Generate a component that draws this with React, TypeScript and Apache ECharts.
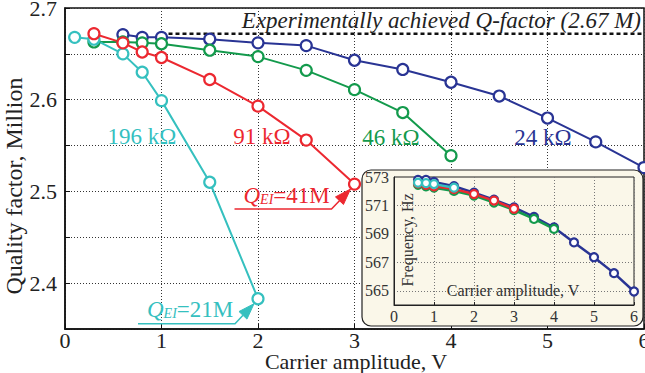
import React, { useEffect, useRef } from 'react';
import * as echarts from 'echarts';

// ---- Main plot data (Quality factor, Million vs carrier amplitude, V)
const cyanX = [0.1, 0.3, 0.6, 0.8, 1.0, 1.5, 2.0];
const cyanQ = [2.668, 2.666, 2.650, 2.630, 2.599, 2.510, 2.383];
const redX = [0.3, 0.6, 0.8, 1.0, 1.5, 2.0, 2.5, 3.0];
const redQ = [2.672, 2.662, 2.652, 2.646, 2.622, 2.593, 2.556, 2.508];
const greenX = [0.3, 0.6, 0.8, 1.0, 1.5, 2.0, 2.5, 3.0, 3.5, 4.0];
const greenQ = [2.663, 2.663, 2.662, 2.661, 2.654, 2.647, 2.632, 2.611, 2.586, 2.539];
const blueX = [0.6, 0.8, 1.0, 1.5, 2.0, 2.5, 3.0, 3.5, 4.0, 4.5, 5.0, 5.5, 6.0];
const blueQ = [2.671, 2.668, 2.668, 2.666, 2.662, 2.659, 2.643, 2.633, 2.619, 2.604, 2.580, 2.554, 2.526];
const expX = [1.0, 6.0];
const expQ = [2.672, 2.672];

// ---- Inset data (Frequency, Hz)
const cyanFX = [0.6, 0.8, 1.0, 1.5];
const cyanF = [572.6, 572.57, 572.5, 572.25];
const redFX = [0.6, 0.8, 1.0, 1.5, 2.0, 2.5, 3.0];
const redF = [572.55, 572.45, 572.35, 572.15, 571.8, 571.34, 570.77];
const greenFX = [0.6, 0.8, 1.0, 1.5, 2.0, 2.5, 3.0, 3.5, 4.0];
const greenF = [572.45, 572.35, 572.25, 572.02, 571.7, 571.2, 570.68, 570.05, 569.35];
const blueFX = [0.6, 0.8, 1.0, 1.5, 2.0, 2.5, 3.0, 3.5, 4.0, 4.5, 5.0, 5.5, 6.0];
const blueF = [572.8, 572.8, 572.65, 572.35, 571.9, 571.4, 570.87, 570.2, 569.45, 568.4, 567.36, 566.24, 564.95];
const insetGridValues = [565, 567, 569, 571];

// ---- Labels
const seriesNames = ['196 kΩ', '91 kΩ', '46 kΩ', '24 kΩ'];
const expLabel = 'Experimentally achieved Q-factor (2.67 M)';
const xTitle = 'Carrier amplitude, V';
const yTitle = 'Quality factor, Million';
const qRed = '41M';
const qCyan = '21M';

const CYAN = '#35c0bf';
const RED = '#ec2830';
const GREEN = '#139a4c';
const BLUE = '#293494';
const FONT = '"Liberation Serif", "Times New Roman", serif';

const zip = (xs: number[], ys: number[]) => xs.map((x, i) => [x, ys[i]]);

export default function App() {
  const ref = useRef<HTMLDivElement>(null);
  useEffect(() => {
    if (!ref.current) return;
    const chart = echarts.init(ref.current, undefined, { renderer: 'svg' });

    const mainSeries = (name: string, color: string, data: number[][]) => ({
      name,
      type: 'line',
      xAxisIndex: 0,
      yAxisIndex: 0,
      data,
      symbol: 'circle',
      symbolSize: 11,
      showSymbol: true,
      clip: false,
      lineStyle: { color, width: 2 },
      itemStyle: { color: '#ffffff', borderColor: color, borderWidth: 2.2 },
      z: 3,
    });
    const insetSeries = (name: string, color: string, data: number[][]) => ({
      name,
      type: 'line',
      xAxisIndex: 1,
      yAxisIndex: 1,
      data,
      symbol: 'circle',
      symbolSize: 8,
      clip: false,
      lineStyle: { color, width: 2.5 },
      itemStyle: { color: '#ffffff', borderColor: color, borderWidth: 2.2 },
      z: 12,
    });

    chart.setOption({
      animation: false,
      grid: [
        {
          left: 65, top: 8, width: 579, height: 321, outerBoundsMode: 'none', containLabel: false,
          show: true, borderColor: '#111', borderWidth: 1.5, backgroundColor: 'transparent',
        },
        {
          left: 394, top: 177, width: 240, height: 128, outerBoundsMode: 'none', containLabel: false,
          show: true, borderColor: '#222', borderWidth: 1, backgroundColor: 'transparent', z: 10,
        },
      ],
      xAxis: [
        {
          type: 'value', gridIndex: 0, min: 0, max: 6, interval: 1,
          axisLine: { show: true, lineStyle: { color: '#111', width: 1.5 } },
          axisTick: { show: true, inside: true, length: 5, lineStyle: { color: '#111' } },
          axisLabel: { fontFamily: FONT, fontSize: 22, color: '#222', margin: 0, hideOverlap: false },
          splitLine: { show: true, lineStyle: { color: '#333', width: 1, type: [1, 2] } },
        },
        {
          type: 'value', gridIndex: 1, min: 0, max: 6, interval: 1, z: 10,
          axisLine: { show: true, lineStyle: { color: '#222', width: 1 } },
          axisTick: { show: true, inside: true, length: 3, lineStyle: { color: '#222' } },
          axisLabel: { fontFamily: FONT, fontSize: 16, color: '#333', margin: 3 },
          splitLine: { show: true, lineStyle: { color: '#777', width: 1, type: [1, 2] } },
        },
      ],
      yAxis: [
        {
          type: 'value', gridIndex: 0, min: 2.35, max: 2.7, interval: 0.05,
          axisLine: { show: true, lineStyle: { color: '#111', width: 1.5 } },
          axisTick: { show: true, inside: true, length: 5, lineStyle: { color: '#111' } },
          axisLabel: {
            fontFamily: FONT, fontSize: 22, color: '#222', margin: 8,
            formatter: (v: number) => (Math.abs(v * 10 - Math.round(v * 10)) < 1e-6 ? v.toFixed(1) : ''),
          },
          splitLine: { show: true, lineStyle: { color: '#333', width: 1, type: [1, 2] } },
        },
        {
          type: 'value', gridIndex: 1, min: 564, max: 573, interval: 1, z: 10,
          axisLine: { show: true, lineStyle: { color: '#222', width: 1 } },
          axisTick: { show: false },
          axisLabel: {
            fontFamily: FONT, fontSize: 16, color: '#333', margin: 5,
            formatter: (v: number) => (Math.round(v) % 2 === 1 ? String(v) : ''),
          },
          splitLine: { show: false },
        },
      ],
      series: [
        {
          name: 'exp', type: 'line', xAxisIndex: 0, yAxisIndex: 0,
          data: zip(expX, expQ), symbol: 'none', clip: false,
          lineStyle: { color: '#111', width: 2.5, type: [4, 3] }, z: 2,
        },
        mainSeries(seriesNames[3], BLUE, zip(blueX, blueQ)),
        mainSeries(seriesNames[2], GREEN, zip(greenX, greenQ)),
        mainSeries(seriesNames[0], CYAN, zip(cyanX, cyanQ)),
        mainSeries(seriesNames[1], RED, zip(redX, redQ)),
        {
          ...insetSeries('f' + seriesNames[3], BLUE, zip(blueFX, blueF)),
          markLine: {
            silent: true, symbol: 'none', label: { show: false },
            lineStyle: { color: '#777', width: 1, type: [1, 2] },
            data: insetGridValues.map((v) => ({ yAxis: v })),
            z: 10,
          },
        },
        insetSeries('f' + seriesNames[2], GREEN, zip(greenFX, greenF)),
        insetSeries('f' + seriesNames[1], RED, zip(redFX, redF)),
        insetSeries('f' + seriesNames[0], CYAN, zip(cyanFX, cyanF)),
      ],
    });

    const pR = chart.convertToPixel({ gridIndex: 0 }, [redX[redX.length - 1], redQ[redQ.length - 1]]) as number[];
    const pC = chart.convertToPixel({ gridIndex: 0 }, [cyanX[cyanX.length - 1], cyanQ[cyanQ.length - 1]]) as number[];

    const annotation = (p: number[], color: string, value: string, id: string) => {
      const tip = [p[0] - 4, p[1] + 5];
      const end = [p[0] - 23, p[1] + 25];
      const dx = tip[0] - end[0];
      const dy = tip[1] - end[1];
      const len = Math.sqrt(dx * dx + dy * dy);
      const u = [dx / len, dy / len];
      const n = [-u[1], u[0]];
      const L = 16;
      const W = 5.5;
      const base = [tip[0] - u[0] * L, tip[1] - u[1] * L];
      return [
        {
          type: 'polyline', id: id + 'line', z: 20,
          shape: { points: [[p[0] - 120, p[1] + 25], end, base] },
          style: { stroke: color, lineWidth: 1.5, fill: null },
        },
        {
          type: 'polygon', id: id + 'head', z: 20,
          shape: {
            points: [tip, [base[0] + n[0] * W, base[1] + n[1] * W], [base[0] - n[0] * W, base[1] - n[1] * W]],
          },
          style: { fill: color, stroke: color, lineWidth: 1 },
        },
        {
          type: 'text', id: id + 'text', z: 20,
          x: p[0] - 111, y: p[1] + 23,
          style: {
            text: '{q|Q}{s|EI}{n|=' + value + '}',
            fill: color, align: 'left', verticalAlign: 'bottom',
            rich: {
              q: { fontFamily: FONT, fontSize: 23, fontStyle: 'italic', fill: color, lineHeight: 24 },
              s: { fontFamily: FONT, fontSize: 14, fontStyle: 'italic', fill: color, verticalAlign: 'bottom', lineHeight: 24, padding: [0, 0, 1, 0] },
              n: { fontFamily: FONT, fontSize: 23, fill: color, lineHeight: 24 },
            },
          },
        },
      ];
    };

    const label = (text: string, x: number, y: number, color: string, id: string) => ({
      type: 'text', id, x, y, z: 20,
      style: { text, fill: color, fontFamily: FONT, fontSize: 23, align: 'center', verticalAlign: 'middle' },
    });

    chart.setOption({
      graphic: [
        {
          type: 'rect', id: 'insetBox', z: 5,
          shape: { x: 362, y: 170, width: 281, height: 156, r: 9 },
          style: { fill: '#faf7e9', stroke: '#222', lineWidth: 1.2 },
        },
        {
          type: 'text', id: 'ytitle', x: 14, y: 186, rotation: Math.PI / 2, z: 20,
          style: { text: yTitle, fill: '#222', fontFamily: FONT, fontSize: 24, align: 'center', verticalAlign: 'middle' },
        },
        {
          type: 'text', id: 'xtitle', x: 356, y: 361, z: 20,
          style: { text: xTitle, fill: '#222', fontFamily: FONT, fontSize: 22, align: 'center', verticalAlign: 'middle' },
        },
        {
          type: 'text', id: 'exp', x: 641, y: 20, z: 20,
          style: { text: expLabel, fill: '#222', fontFamily: FONT, fontSize: 23, fontStyle: 'italic', align: 'right', verticalAlign: 'middle' },
        },
        label(seriesNames[0], 142, 136, CYAN, 'l0'),
        label(seriesNames[1], 262, 136, RED, 'l1'),
        label(seriesNames[2], 391, 137, GREEN, 'l2'),
        label(seriesNames[3], 543, 137, BLUE, 'l3'),
        {
          type: 'text', id: 'iy', x: 407, y: 240, rotation: Math.PI / 2, z: 20,
          style: { text: 'Frequency, Hz', fill: '#333', fontFamily: FONT, fontSize: 16, align: 'center', verticalAlign: 'middle' },
        },
        {
          type: 'text', id: 'ix', x: 513, y: 290, z: 20,
          style: { text: xTitle, fill: '#333', fontFamily: FONT, fontSize: 16, align: 'center', verticalAlign: 'middle' },
        },
        ...annotation(pR, RED, qRed, 'aR'),
        ...annotation(pC, CYAN, qCyan, 'aC'),
      ],
    });

    return () => chart.dispose();
  }, []);
  return <div ref={ref} style={{ width: 645, height: 373, position: 'absolute', left: 0, top: 0 }} />;
}
